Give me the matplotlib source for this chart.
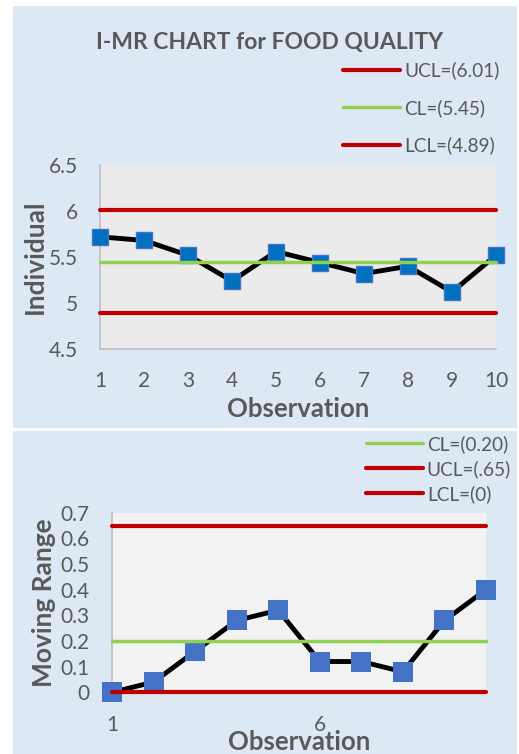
import matplotlib.pyplot as plt
from matplotlib.patches import Rectangle

plt.rcParams['font.family'] = ['Lato', 'DejaVu Sans']

# Individual readings and their moving ranges
obs = [1, 2, 3, 4, 5, 6, 7, 8, 9, 10]
individual = [5.72, 5.68, 5.52, 5.24, 5.56, 5.44, 5.32, 5.40, 5.12, 5.52]
moving_range = [0, 0.04, 0.16, 0.28, 0.32, 0.12, 0.12, 0.08, 0.28, 0.40]

i_ucl, i_cl, i_lcl = 6.01, 5.45, 4.89
mr_ucl, mr_cl, mr_lcl = 0.65, 0.20, 0

i_labels = ['UCL=(6.01)', 'CL=(5.45)', 'LCL=(4.89)']
mr_labels = ['CL=(0.20)', 'UCL=(.65)', 'LCL=(0)']

grey = '#595959'
red = '#C00000'
green = '#92D050'
panel = '#DDE8F5'

fig = plt.figure(figsize=(5.19, 7.54), dpi=100)

# panel backgrounds
fig.patches.append(Rectangle((0.025, 0.4324), 0.971, 0.5597, transform=fig.transFigure,
                             facecolor=panel, edgecolor='none', zorder=-10))
fig.patches.append(Rectangle((0.025, 0.0), 0.971, 0.4284, transform=fig.transFigure,
                             facecolor=panel, edgecolor='none', zorder=-10))

# ---- Individuals chart ----
ax1 = fig.add_axes([0.1927, 0.5371, 0.763, 0.2440])
ax1.set_facecolor('#EBEBEB')
ax1.plot(obs, individual, color='black', lw=3.5, marker='s', ms=11,
         mfc='#0070C0', mec='#4472C4', mew=1, clip_on=False, zorder=3)
h_ucl, = ax1.plot([obs[0], obs[-1]], [i_ucl, i_ucl], color=red, lw=3, solid_capstyle='round', clip_on=False, zorder=4)
h_cl, = ax1.plot([obs[0], obs[-1]], [i_cl, i_cl], color=green, lw=2.5, solid_capstyle='round', clip_on=False, zorder=4)
h_lcl, = ax1.plot([obs[0], obs[-1]], [i_lcl, i_lcl], color=red, lw=3, solid_capstyle='round', clip_on=False, zorder=4)
ax1.set_xlim(1, 10)
ax1.set_ylim(4.5, 6.5)
ax1.set_xticks(obs)
ax1.set_yticks([4.5, 5, 5.5, 6, 6.5])
ax1.set_yticklabels(['4.5', '5', '5.5', '6', '6.5'])
ax1.tick_params(length=0, labelsize=15, labelcolor=grey)
ax1.tick_params(axis='y', pad=16)
ax1.tick_params(axis='x', pad=16)
for s in ['top', 'right']:
    ax1.spines[s].set_visible(False)
for s in ['left', 'bottom']:
    ax1.spines[s].set_color('#BFBFBF')
    ax1.spines[s].set_linewidth(1.2)
ax1.set_xlabel('Observation', fontsize=18.5, fontweight='bold', color=grey, labelpad=4)
ax1.set_ylabel('Individual', fontsize=19, fontweight='bold', color=grey, labelpad=1.5)
fig.text(0.52, 0.943, 'I-MR CHART for FOOD QUALITY', ha='center', va='center',
         fontsize=16.5, fontweight='bold', color=grey)
fig.legend([h_ucl, h_cl, h_lcl], i_labels, loc='center left', bbox_to_anchor=(0.661, 0.8568),
           frameon=False, fontsize=13.7, labelcolor=grey, handlelength=3.0, handletextpad=0.2,
           labelspacing=1.02, borderpad=0, borderaxespad=0)

# ---- Moving range chart ----
ax2 = fig.add_axes([0.2158, 0.0818, 0.7206, 0.2382])
ax2.set_facecolor('#F2F2F2')
ax2.plot(obs, moving_range, color='black', lw=3.5, marker='s', ms=14,
         mfc='#4472C4', mec='#4472C4', mew=0, clip_on=False, zorder=3)
m_cl, = ax2.plot([obs[0], obs[-1]], [mr_cl, mr_cl], color=green, lw=2.5, solid_capstyle='round', clip_on=False, zorder=4)
m_ucl, = ax2.plot([obs[0], obs[-1]], [mr_ucl, mr_ucl], color=red, lw=3, solid_capstyle='round', clip_on=False, zorder=4)
m_lcl, = ax2.plot([obs[0], obs[-1]], [mr_lcl, mr_lcl], color=red, lw=3, solid_capstyle='round', clip_on=False, zorder=4)
ax2.set_xlim(1, 10)
ax2.set_ylim(0, 0.7)
ax2.set_xticks([1, 6])
ax2.set_yticks([0, 0.1, 0.2, 0.3, 0.4, 0.5, 0.6, 0.7])
ax2.set_yticklabels(['0', '0.1', '0.2', '0.3', '0.4', '0.5', '0.6', '0.7'])
ax2.tick_params(length=0, labelsize=15, labelcolor=grey)
ax2.tick_params(axis='y', pad=16)
ax2.tick_params(axis='x', pad=16)
for s in ['top', 'right', 'bottom']:
    ax2.spines[s].set_visible(False)
ax2.spines['left'].set_color('#BFBFBF')
ax2.spines['left'].set_linewidth(1.2)
ax2.set_xlabel('Observation', fontsize=18.5, fontweight='bold', color=grey, labelpad=-3)
ax2.set_ylabel('Moving Range', fontsize=19, fontweight='bold', color=grey, labelpad=3)
fig.legend([m_cl, m_ucl, m_lcl], mr_labels, loc='center left', bbox_to_anchor=(0.705, 0.378),
           frameon=False, fontsize=13.7, labelcolor=grey, handlelength=3.0, handletextpad=0.2,
           labelspacing=0.38, borderpad=0, borderaxespad=0)

fig.savefig('out.png', dpi=100)
